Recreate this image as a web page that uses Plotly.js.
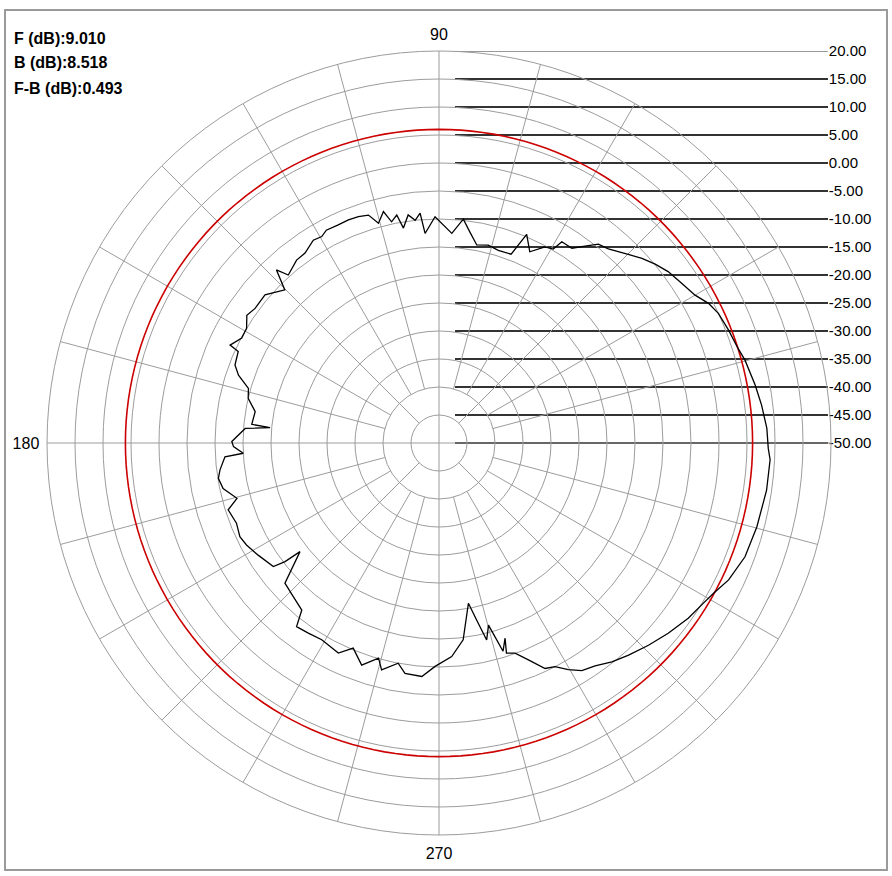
<!DOCTYPE html>
<html><head><meta charset="utf-8">
<script src="https://cdn.plot.ly/plotly-3.0.1.min.js"></script>
<style>html,body{margin:0;padding:0;background:#fff}#chart{width:892px;height:876px}</style>
</head><body><div id="chart"></div>
<script>
// Measured antenna pattern (angle in degrees, level in dB)
const patternTheta = [2.6,6.7,10.4,15.2,17.6,21.3,24.9,27.4,30.0,33.3,36.8,39.6,42.3,44.9,48.9,51.3,52.9,55.7,58.6,59.5,61.6,64.6,67.2,69.1,72.9,76.0,79.2,81.7,83.8,86.5,91.0,93.8,94.7,96.1,97.7,99.4,100.5,102.1,103.5,105.4,107.2,109.6,112.1,114.8,117.9,119.6,121.8,125.2,127.9,131.9,133.2,135.2,139.6,143.8,146.4,149.2,152.0,154.9,155.5,159.1,161.3,164.0,166.8,170.3,174.3,174.8,175.7,179.6,181.0,183.0,183.7,187.0,189.1,191.9,195.3,197.6,201.6,205.2,207.9,211.8,216.7,217.6,218.0,222.3,226.5,230.6,232.2,235.5,239.2,244.4,247.3,250.8,254.3,255.8,259.5,261.6,265.8,269.0,273.4,277.0,280.4,282.0,283.6,285.2,286.1,287.1,288.7,287.8,289.9,292.4,295.2,297.4,299.7,302.1,305.0,308.3,311.8,316.0,320.3,324.9,328.8,331.3,334.7,339.6,345.2,351.8,357.1,359.1,362.6];
const patternDb = [8.6,8.0,7.4,6.6,6.0,5.5,5.0,4.2,2.8,1.9,1.1,0.1,-1.0,-2.3,-4.0,-4.5,-5.8,-7.9,-7.9,-9.8,-10.2,-12.2,-9.6,-13.9,-14.0,-13.6,-14.0,-11.9,-9.8,-12.5,-9.6,-12.5,-8.8,-10.0,-8.9,-11.1,-8.6,-9.6,-7.5,-9.3,-7.4,-7.1,-7.0,-7.1,-7.0,-7.6,-7.4,-8.5,-8.6,-9.7,-7.6,-11.2,-9.2,-9.3,-8.8,-10.0,-10.1,-8.8,-10.6,-11.0,-12.2,-14.6,-15.0,-16.7,-16.4,-19.7,-15.3,-13.0,-13.3,-15.0,-11.7,-10.6,-10.1,-10.6,-12.6,-10.5,-11.1,-10.7,-11.1,-12.0,-13.1,-15.3,-18.5,-12.8,-12.2,-11.4,-8.5,-8.8,-9.1,-8.4,-10.3,-8.0,-10.1,-8.2,-10.0,-8.4,-8.2,-10.1,-11.8,-14.6,-20.9,-17.7,-13.8,-16.3,-14.0,-11.1,-13.2,-10.6,-10.1,-8.1,-5.5,-5.0,-3.4,-2.0,-1.4,-0.2,0.8,2.0,3.2,4.4,5.2,5.9,7.2,8.3,8.7,9.1,9.2,8.8,8.6];
const refLevelDb = 6.0;
const radialTicks = [20,15,10,5,0,-5,-10,-15,-20,-25,-30,-35,-40,-45,-50];
const angleTickVals = [90,180,270];
const angleTickText = ['90','180','270'];
const statLabels = ['F (dB):9.010','B (dB):8.518','F-B (dB):0.493'];

const rMin = -50, rMax = 20, spokeStep = 15;
const FONT = "'Liberation Sans',Arial,sans-serif";
const GRID = '#9c9c9c';
const LABEL_LINE = '#333333';

// spokes: axes through centre, diagonals from first ring, others from second ring
const spokeR = [], spokeT = [];
for (let a = 0; a < 360; a += spokeStep) {
  const r0 = a % 90 === 0 ? rMin : (a % 45 === 0 ? rMin + 5 : rMin + 10);
  spokeR.push(r0, rMax, null); spokeT.push(a, a, null);
}
const refT = [], refR = [];
for (let a = 0; a <= 360; a += 2) { refT.push(a); refR.push(refLevelDb); }

const traces = [
  {type:'scatterpolar', r:spokeR, theta:spokeT, mode:'lines', line:{color:GRID,width:1}, hoverinfo:'skip', connectgaps:false},
  {type:'scatterpolar', r:refR, theta:refT, mode:'lines', line:{color:'#cc0000',width:1.6}, hoverinfo:'skip'},
  {type:'scatterpolar', r:patternDb, theta:patternTheta, mode:'lines', line:{color:'#000000',width:1.3}},
  {type:'scatter', x:[], y:[], xaxis:'x', yaxis:'y', mode:'lines', hoverinfo:'skip'}
];

const pxX = px => (px - 47) / 784, pxY = py => (835 - py) / 784;

const layout = {
  width:892, height:876,
  margin:{l:47, r:61, t:51, b:41, pad:0},
  showlegend:false,
  paper_bgcolor:'#ffffff', plot_bgcolor:'rgba(0,0,0,0)',
  font:{family:FONT, color:'#000'},
  polar:{
    domain:{x:[0,1], y:[0,1]},
    bgcolor:'rgba(0,0,0,0)',
    radialaxis:{range:[rMin,rMax], tickmode:'array', tickvals:radialTicks, showticklabels:false, ticks:'', showline:false, gridcolor:GRID, gridwidth:1, angle:90},
    angularaxis:{rotation:0, direction:'counterclockwise', tickmode:'array', tickvals:angleTickVals, ticktext:angleTickText,
      showgrid:false, showline:true, linecolor:GRID, linewidth:1, ticks:'outside', ticklen:4, tickcolor:'rgba(0,0,0,0)',
      tickfont:{family:FONT, size:16, color:'#000'}}
  },
  xaxis:{domain:[0.52,0.996], range:[0,1], visible:false, fixedrange:true},
  yaxis:{domain:[0,1], range:[rMin-(rMax-rMin), rMax], side:'right', anchor:'x', tickmode:'array',
    tickvals:radialTicks, ticktext:radialTicks.map(v=>v.toFixed(2)), showgrid:true, gridcolor:LABEL_LINE, gridwidth:1.2,
    zeroline:false, showline:false, ticks:'', ticklabelstandoff:0, tickfont:{family:FONT, size:15, color:'#000'}, fixedrange:true},
  shapes:[
    {type:'rect', xref:'paper', yref:'paper', x0:pxX(5), x1:pxX(887), y0:pxY(870), y1:pxY(10), line:{color:'#9a9a9a', width:2}, layer:'below'},
    {type:'line', xref:'x', yref:'y', x0:0, x1:1, y0:rMax, y1:rMax, line:{color:LABEL_LINE, width:1.2}, layer:'below'}
  ],
  annotations: statLabels.map((t,i)=>({xref:'paper', yref:'paper', x:pxX(12), y:pxY(38+25*i), xanchor:'left', yanchor:'middle', showarrow:false,
    text:'<b>'+t+'</b>', font:{family:FONT, size:16, color:'#000'}}))
};

Plotly.newPlot('chart', traces, layout, {displayModeBar:false, staticPlot:true});
</script></body></html>
